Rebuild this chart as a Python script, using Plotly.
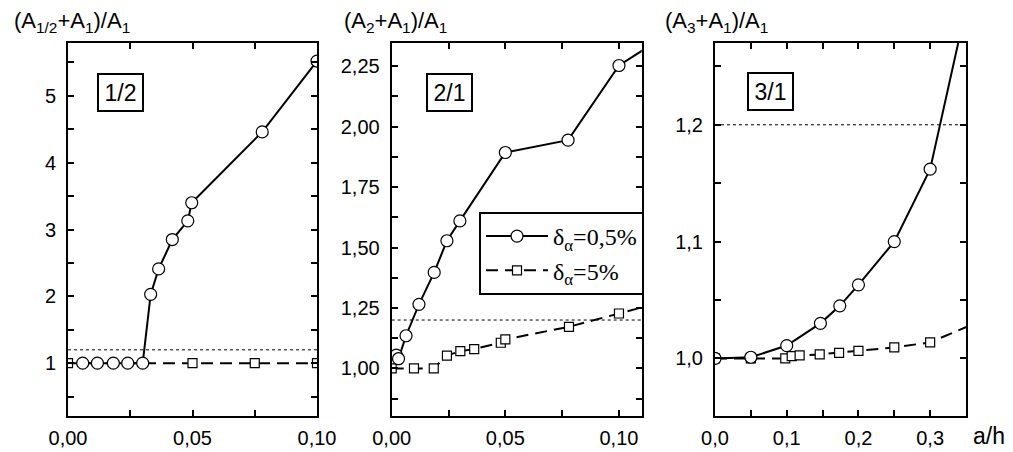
import plotly.graph_objects as go

W, H = 1013, 452
FONT = "Arial, Liberation Sans, sans-serif"
SERIF = "Times New Roman, Liberation Serif, serif"
THRESHOLD = 1.2

# ---- data -------------------------------------------------------------
# Panel 1/2
p1_circ_x = [0.0059, 0.0118, 0.0182, 0.024, 0.030, 0.0332, 0.0364, 0.0419, 0.0481, 0.0497, 0.078, 0.1]
p1_circ_y = [1.0, 1.0, 1.0, 1.0, 1.0, 2.03, 2.41, 2.85, 3.13, 3.40, 4.46, 5.52]
p1_sq_x = [0.0, 0.05, 0.075, 0.1]
p1_sq_y = [1.0, 1.0, 1.0, 1.0]

# Panel 2/1
p2_circ_x = [0.002, 0.003, 0.0063, 0.012, 0.0187, 0.0243, 0.030, 0.050, 0.0776, 0.100, 0.120]
p2_circ_y = [1.055, 1.04, 1.135, 1.265, 1.397, 1.528, 1.61, 1.893, 1.944, 2.253, 2.373]
p2_sq_x = [0.0, 0.0098, 0.0185, 0.0243, 0.0302, 0.0363, 0.048, 0.050, 0.078, 0.100, 0.120]
p2_sq_y = [1.0, 1.0, 1.0, 1.053, 1.071, 1.08, 1.106, 1.12, 1.172, 1.227, 1.277]

# Panel 3/1
p3_circ_x = [0.0, 0.05, 0.1, 0.147, 0.174, 0.2, 0.25, 0.3, 0.35]
p3_circ_y = [1.0, 1.001, 1.011, 1.030, 1.045, 1.063, 1.100, 1.162, 1.300]
p3_sq_x = [0.0, 0.05, 0.098, 0.107, 0.118, 0.146, 0.173, 0.2, 0.25, 0.3, 0.4]
p3_sq_y = [1.0, 1.0, 1.0, 1.002, 1.0026, 1.0034, 1.0048, 1.0065, 1.0094, 1.0137, 1.040]

legend_names = ["δ<sub>α</sub>=0,5%", "δ<sub>α</sub>=5%"]
panel_labels = ["1/2", "2/1", "3/1"]
y_titles = ["(A<sub>1/2</sub>+A<sub>1</sub>)/A<sub>1</sub>",
            "(A<sub>2</sub>+A<sub>1</sub>)/A<sub>1</sub>",
            "(A<sub>3</sub>+A<sub>1</sub>)/A<sub>1</sub>"]
x_title = "a/h"

# ---- layout geometry (pixels) ----------------------------------------
panels_px = [(68, 317), (391.7, 641.7), (715, 966)]
top_px, bot_px = 43, 416
ydom = [1 - bot_px / H, 1 - top_px / H]

fig = go.Figure()

data = [
    (p1_circ_x, p1_circ_y, p1_sq_x, p1_sq_y),
    (p2_circ_x, p2_circ_y, p2_sq_x, p2_sq_y),
    (p3_circ_x, p3_circ_y, p3_sq_x, p3_sq_y),
]

for i, (cx, cy, sx, sy) in enumerate(data):
    xa = "x" if i == 0 else f"x{i+1}"
    ya = "y" if i == 0 else f"y{i+1}"
    fig.add_trace(go.Scatter(
        x=sx, y=sy, xaxis=xa, yaxis=ya, mode="lines+markers",
        name=legend_names[1], showlegend=(i == 1), legendrank=2,
        line=dict(color="black", width=2, dash="12px,7px"),
        marker=dict(symbol="square", size=9, color="white",
                    line=dict(color="black", width=1.2)),
    ))
    fig.add_trace(go.Scatter(
        x=cx, y=cy, xaxis=xa, yaxis=ya, mode="lines+markers",
        name=legend_names[0], showlegend=(i == 1), legendrank=1,
        line=dict(color="black", width=2),
        marker=dict(symbol="circle", size=12, color="white",
                    line=dict(color="black", width=1.2)),
    ))

axis_common = dict(
    showline=True, linewidth=2, linecolor="black", mirror="allticks",
    ticks="inside", ticklen=6, tickwidth=1.5, tickcolor="black",
    showgrid=False, zeroline=False, automargin=False,
    tickfont=dict(family=FONT, size=20, color="black"),
)

xspecs = [
    dict(range=[0, 0.1], tickvals=[0, 0.05, 0.1], tickformat=".2f", minor_dtick=0.025),
    dict(range=[0, 0.11], tickvals=[0, 0.05, 0.1], tickformat=".2f", minor_dtick=0.025),
    dict(range=[0, 0.35], tickvals=[0, 0.1, 0.2, 0.3], tickformat=".1f", minor_dtick=0.05),
]
yspecs = [
    dict(range=[0.21, 5.79], tickvals=[1, 2, 3, 4, 5], tickformat="d", minor_dtick=0.5),
    dict(range=[0.803, 2.346], tickvals=[1.0, 1.25, 1.5, 1.75, 2.0, 2.25], tickformat=".2f", minor_dtick=0.125),
    dict(range=[0.9507, 1.27], tickvals=[1.0, 1.1, 1.2], tickformat=".1f", minor_dtick=0.05),
]

layout = dict(
    width=W, height=H, margin=dict(l=0, r=0, t=0, b=0),
    paper_bgcolor="white", plot_bgcolor="white",
    separators=",.",
    showlegend=True,
    legend=dict(
        x=479 / W, y=1 - 212 / H, xanchor="left", yanchor="top",
        bgcolor="white", bordercolor="black", borderwidth=2,
        font=dict(family=SERIF, size=24, color="black"),
        itemwidth=62, tracegroupgap=0,
    ),
)

for i in range(3):
    xs, ys = xspecs[i], yspecs[i]
    x0, x1 = panels_px[i]
    xk = "xaxis" if i == 0 else f"xaxis{i+1}"
    yk = "yaxis" if i == 0 else f"yaxis{i+1}"
    xa_anchor = "y" if i == 0 else f"y{i+1}"
    ya_anchor = "x" if i == 0 else f"x{i+1}"
    layout[xk] = dict(axis_common, domain=[x0 / W, x1 / W], anchor=xa_anchor,
                      range=xs["range"], tickvals=xs["tickvals"], tickformat=xs["tickformat"],
                      ticklabelstandoff=3,
                      minor=dict(dtick=xs["minor_dtick"], ticks="inside", ticklen=6,
                                 tickwidth=1.5, tickcolor="black", showgrid=False))
    layout[yk] = dict(axis_common, domain=ydom, anchor=ya_anchor,
                      range=ys["range"], tickvals=ys["tickvals"], tickformat=ys["tickformat"],
                      ticklabelstandoff=6,
                      minor=dict(dtick=ys["minor_dtick"], ticks="inside", ticklen=6,
                                 tickwidth=1.5, tickcolor="black", showgrid=False))

fig.update_layout(**layout)

# threshold dotted lines
for i in range(3):
    xr = "x" if i == 0 else f"x{i+1}"
    yr = "y" if i == 0 else f"y{i+1}"
    fig.add_shape(type="line", xref=f"{xr} domain", yref=yr, x0=0, x1=1,
                  y0=THRESHOLD, y1=THRESHOLD,
                  line=dict(color="black", width=1, dash="dot"))

# panel label boxes
box_centers = [(120.5, 92.5), (449.5, 93), (770, 92)]
for lab, (bx, by) in zip(panel_labels, box_centers):
    fig.add_annotation(xref="paper", yref="paper", x=bx / W, y=1 - by / H,
                       xanchor="center", yanchor="middle", showarrow=False,
                       text=lab, font=dict(family=FONT, size=23, color="black"),
                       width=39, height=31, borderpad=2,
                       bordercolor="black", borderwidth=2, bgcolor="white")

# y-axis titles
title_x = [12, 342, 663]
for t, tx in zip(y_titles, title_x):
    fig.add_annotation(xref="paper", yref="paper", x=tx / W, y=1 - 22 / H,
                       xanchor="left", yanchor="middle", showarrow=False,
                       text=t, font=dict(family=FONT, size=22, color="black"))

fig.add_annotation(xref="paper", yref="paper", x=971 / W, y=1 - 436 / H,
                   xanchor="left", yanchor="middle", showarrow=False,
                   text=x_title, font=dict(family=FONT, size=23, color="black"))

fig.write_html("out.html", config={"displayModeBar": False},
               post_script="document.body.style.margin='0';document.body.style.overflow='hidden';")
